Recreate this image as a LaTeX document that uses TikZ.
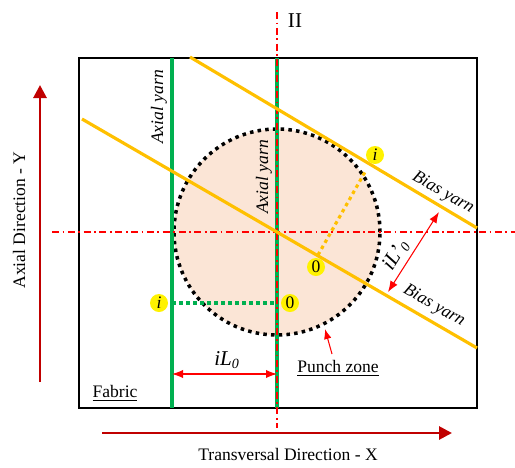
\documentclass[tikz,border=0pt]{standalone}
\usepackage{fontspec}
\setmainfont{Liberation Serif}
\usetikzlibrary{arrows.meta}

\definecolor{yarngreen}{HTML}{00B050}
\definecolor{yarnorange}{HTML}{FFC000}
\definecolor{punchfill}{HTML}{FBE5D6}
\definecolor{dirred}{HTML}{C00000}

\tikzset{
  axisline/.style={red,line width=0.8pt,dash pattern=on 4pt off 2pt on 1pt off 2pt},
  axialyarn/.style={yarngreen,line width=2pt},
  biasyarn/.style={yarnorange,line width=1.8pt},
  marker/.style={circle,fill=yellow,inner sep=0pt,minimum size=0.36cm},
  dimarrow/.style={red,line width=0.6pt,{Latex[length=2.2mm]}-{Latex[length=2.2mm]}},
  dirarrow/.style={dirred,line width=1.6pt,-{Triangle[length=2.6mm,width=2.6mm]}},
  yarnlabel/.style={font=\itshape}
}

\begin{document}
\begin{tikzpicture}
\useasboundingbox (0,0) rectangle (10.3,-9.34);
% punch zone
\coordinate (O) at (5.54,-4.64);
\fill[punchfill] (O) circle (2.06);
\draw[line width=2pt,dash pattern=on 2pt off 2.4pt] (O) circle (2.06);
% fabric
\coordinate (F1) at (1.58,-1.16); \coordinate (F2) at (9.54,-8.16);
\draw[line width=1.1pt] (F1) rectangle (F2);
% symmetry lines
\coordinate (V1) at (5.54,-0.24); \coordinate (V2) at (5.54,-8.56);
\coordinate (H1) at (1.04,-4.64); \coordinate (H2) at (10.4,-4.64);
% axial yarns
\coordinate (A1) at (3.44,-1.16); \coordinate (A2) at (3.44,-8.16);
\coordinate (B1) at (5.54,-1.16); \coordinate (B2) at (5.54,-8.16);
\draw[axialyarn] (A1)--(A2);
\draw[axialyarn] (B1)--(B2);
\draw[axisline] (V1)--(V2);
\draw[axisline] (H1)--(H2);
\node (II) at (5.9,-0.42) {\large II};
\node (I) at (10.38,-4.98) {\large I};
% bias yarns
\coordinate (C1) at (3.8,-1.14); \coordinate (C2) at (9.54,-4.56);
\coordinate (D1) at (1.64,-2.38); \coordinate (D2) at (9.54,-6.96);
\draw[biasyarn] (C1)--(C2);
\draw[biasyarn] (D1)--(D2);
% markers
\node[marker] (i1) at (7.5,-3.1) {\textit{i}};
\node[marker] (o1) at (6.32,-5.34) {0};
\node[marker] (o2) at (5.8,-6.06) {0};
\node[marker] (i2) at (3.18,-6.06) {\textit{i}};
\coordinate (P1) at (6.36,-5.1); \coordinate (P2) at (7.3,-3.44);
\draw[yarnorange,line width=1.8pt,dash pattern=on 2pt off 2pt] (P1)--(P2);
\coordinate (Q1) at (3.44,-6.06); \coordinate (Q2) at (5.54,-6.06);
\draw[yarngreen,line width=1.8pt,dash pattern=on 2pt off 2pt] (Q1)--(Q2);
% yarn labels
\node[yarnlabel,rotate=90] (ax1) at (3.18,-2.14) {Axial yarn};
\node[yarnlabel,rotate=90] (ax2) at (5.28,-3.54) {Axial yarn};
\node[yarnlabel,rotate=-30] (bs1) at (8.86,-3.86) {Bias yarn};
\node[yarnlabel,rotate=-30] (bs2) at (8.68,-6.12) {Bias yarn};
% spacings
\coordinate (L1) at (3.44,-7.48); \coordinate (L2) at (5.54,-7.48);
\draw[dimarrow] (L1)--(L2);
\node (iL) at (4.54,-7.2) {\large\textit{iL\textsubscript{0}}};
\coordinate (M1) at (7.76,-5.84); \coordinate (M2) at (8.78,-4.24);
\draw[dimarrow] (M1)--(M2);
\node[rotate=58] (iLb) at (7.92,-5.1) {\large\textit{iL'\textsubscript{0}}};
% punch zone label
\node (pz) at (6.76,-7.36) {\underline{Punch zone}};
\coordinate (pzs) at (6.64,-7.08); \coordinate (pzt) at (6.5,-6.58);
\draw[red,line width=0.6pt,-{Latex[length=2mm]}] (pzs)--(pzt);
\node (fab) at (2.3,-7.86) {\underline{Fabric}};
% directions
\coordinate (Y1) at (0.8,-7.64); \coordinate (Y2) at (0.8,-1.7);
\draw[dirarrow] (Y1)--(Y2);
\node[rotate=90] (ydir) at (0.38,-4.4) {Axial Direction - Y};
\coordinate (X1) at (2.04,-8.66); \coordinate (X2) at (9.04,-8.66);
\draw[dirarrow] (X1)--(X2);
\node (xdir) at (5.76,-9.08) {Transversal Direction - X};
\end{tikzpicture}
\end{document}
